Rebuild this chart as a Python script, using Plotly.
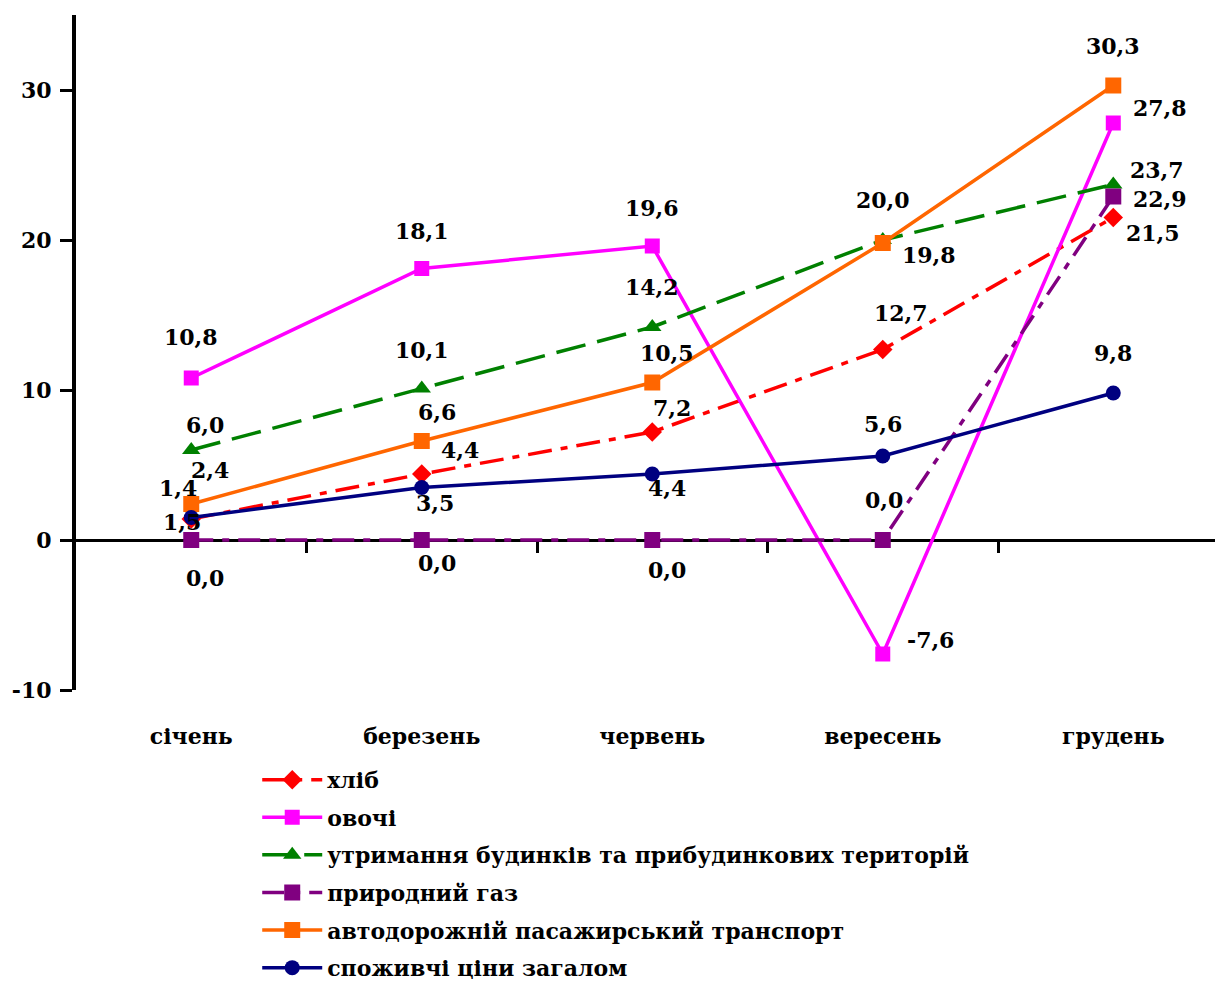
import plotly.graph_objects as go

months = ["січень", "березень", "червень", "вересень", "грудень"]

bread = [1.4, 4.4, 7.2, 12.7, 21.5]
vegetables = [10.8, 18.1, 19.6, -7.6, 27.8]
housing = [6.0, 10.1, 14.2, 20.0, 23.7]
gas = [0.0, 0.0, 0.0, 0.0, 22.9]
transport = [2.4, 6.6, 10.5, 19.8, 30.3]
cpi = [1.5, 3.5, 4.4, 5.6, 9.8]

series_names = [
    "хліб",
    "овочі",
    "утримання будинків та прибудинкових територій",
    "природний газ",
    "автодорожній пасажирський транспорт",
    "споживчі ціни загалом",
]

y_tickvals = [-10, 0, 10, 20, 30]
y_ticktext = ["-10", "0", "10", "20", "30"]

# styles (kept separate from data)
styles = [
    dict(color="#FF0000", dash="24px,9px,7px,9px", symbol="diamond", size=15),
    dict(color="#FF00FF", dash="solid", symbol="square", size=15),
    dict(color="#008000", dash="30px,12px", symbol="triangle-up", size=16),
    dict(color="#800080", dash="22px,9px,7px,9px", symbol="square", size=16),
    dict(color="#FF6600", dash="solid", symbol="square", size=16),
    dict(color="#000080", dash="solid", symbol="circle", size=15),
]

# label offsets in pixels (dx, dy with dy positive = down on screen)
offsets = [
    [(-13, -31), (38, -24), (20, -24), (18, -37), (40, 15)],
    [(0, -41), (0, -38), (0, -38), (48, -14), (47, -15)],
    [(14, -25), (0, -39), (0, -40), (0, -40), (44, -15)],
    [(14, 38), (15, 23), (15, 30), (1, -40), (47, 2)],
    [(19, -34), (15, -29), (15, -30), (46, 12), (0, -40)],
    [(-9, 4), (13, 15), (15, 14), (0, -32), (0, -40)],
]

all_series = [bread, vegetables, housing, gas, transport, cpi]

FONT = "DejaVu Serif"

fig = go.Figure()

for i, (name, vals, st) in enumerate(zip(series_names, all_series, styles)):
    fig.add_trace(go.Scatter(
        x=months, y=vals, name=name, mode="lines+markers",
        line=dict(color=st["color"], width=3.5, dash=st["dash"]),
        marker=dict(symbol=st["symbol"], size=st["size"], color=st["color"]),
        legendgroup=f"g{i}", cliponaxis=False, hoverinfo="skip",
    ))

# invisible trace to activate the zero-position axis
fig.add_trace(go.Scatter(x=[0], y=[0], xaxis="x2", mode="none",
                         showlegend=False, hoverinfo="skip"))

annotations = []
for vals, offs in zip(all_series, offsets):
    for m, v, (dx, dy) in zip(months, vals, offs):
        annotations.append(dict(
            x=m, y=v, xref="x", yref="y",
            text="<b>" + f"{v:.1f}".replace(".", ",") + "</b>",
            showarrow=False, xshift=dx, yshift=-dy,
            font=dict(family=FONT, size=22, color="black"),
        ))

xr = [-0.5, 4.476]
fig.update_layout(
    width=1215, height=978,
    margin=dict(l=68, r=0, t=7, b=296, autoexpand=False),
    paper_bgcolor="white", plot_bgcolor="white",
    font=dict(family=FONT, color="black"),
    showlegend=True,
    legend=dict(x=0.158, y=-0.102, xanchor="left", yanchor="top",
                font=dict(family=FONT, size=22, color="black", weight="bold"),
                tracegroupgap=6, itemwidth=60, bgcolor="rgba(0,0,0,0)"),
    xaxis=dict(type="category", range=xr, showline=False, showgrid=False,
               zeroline=False, ticks="", ticklabelstandoff=31, automargin=False,
               tickfont=dict(family=FONT, size=22, color="black", weight="bold")),
    xaxis2=dict(type="linear", range=xr, overlaying="x", anchor="free",
                position=10 / 45, showline=True, linecolor="black", linewidth=3,
                ticks="outside", tickvals=[0.5, 1.5, 2.5, 3.5], ticklen=11,
                tickwidth=3, tickcolor="black", showticklabels=False,
                showgrid=False, zeroline=False, layer="below traces",
                automargin=False),
    yaxis=dict(range=[-10, 35], tickvals=y_tickvals, ticktext=y_ticktext,
               showline=True, linecolor="black", linewidth=4, ticks="outside",
               ticklen=12, tickwidth=3, tickcolor="black", showgrid=False,
               zeroline=False, automargin=False, ticklabelstandoff=4,
               tickfont=dict(family=FONT, size=22, color="black", weight="bold")),
    annotations=annotations,
)

fig.write_html("out.html")
